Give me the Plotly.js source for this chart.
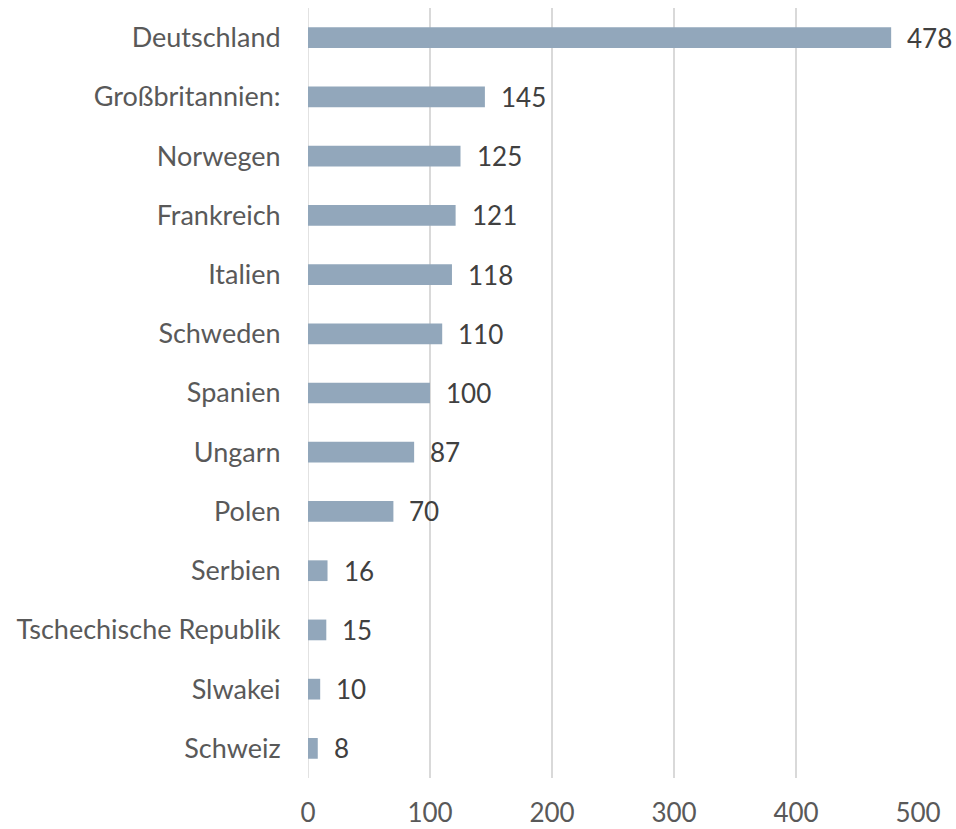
<!DOCTYPE html>
<html>
<head>
<meta charset="utf-8">
<script src="https://cdn.plot.ly/plotly-3.0.1.min.js"></script>
<style>
html,body{margin:0;padding:0;background:#fff;}
#chart{width:956px;height:829px;}
</style>
</head>
<body>
<div id="chart"></div>
<script>
const countries = ["Deutschland","Großbritannien:","Norwegen","Frankreich","Italien","Schweden","Spanien","Ungarn","Polen","Serbien","Tschechische Republik","Slwakei","Schweiz"];
const values = [478,145,125,121,118,110,100,87,70,16,15,10,8];
const xTicks = [0,100,200,300,400,500];

const FONT = "Lato, 'Open Sans', sans-serif";

const trace = {
  type: "bar",
  orientation: "h",
  y: countries,
  x: values,
  width: 0.35,
  marker: {color: "#92a7bb", line: {width: 0}},
  hoverinfo: "none"
};

const annotations = countries.map((c, i) => ({
  x: values[i], y: c, xref: "x", yref: "y",
  text: String(values[i]),
  showarrow: false, xanchor: "left", yanchor: "middle",
  xshift: 14,
  font: {family: FONT, size: 26, color: "#404040"}
}));

const layout = {
  width: 956, height: 829,
  margin: {l: 308, r: 38, t: 8, b: 51},
  paper_bgcolor: "#fff", plot_bgcolor: "#fff",
  showlegend: false,
  xaxis: {
    range: [0, 500],
    tickvals: xTicks,
    ticktext: xTicks.map(String),
    showgrid: true, gridcolor: "#d9d9d9", gridwidth: 1.5,
    zeroline: false, showline: false,
    ticks: "outside", ticklen: 12, tickcolor: "rgba(0,0,0,0)",
    tickfont: {family: FONT, size: 26, color: "#595959"},
    fixedrange: true
  },
  yaxis: {
    type: "category",
    autorange: "reversed",
    showgrid: false, zeroline: false, showline: false,
    ticks: "outside", ticklen: 21, tickcolor: "rgba(0,0,0,0)",
    tickfont: {family: FONT, size: 27, color: "#595959"},
    fixedrange: true
  },
  annotations: annotations,
  shapes: [{
    type: "line", xref: "x", yref: "paper", x0: 0, x1: 0, y0: 0, y1: 1,
    line: {color: "#d9d9d9", width: 1.5}, layer: "below"
  }]
};

Plotly.newPlot("chart", [trace], layout, {displayModeBar: false, staticPlot: true});
</script>
</body>
</html>
